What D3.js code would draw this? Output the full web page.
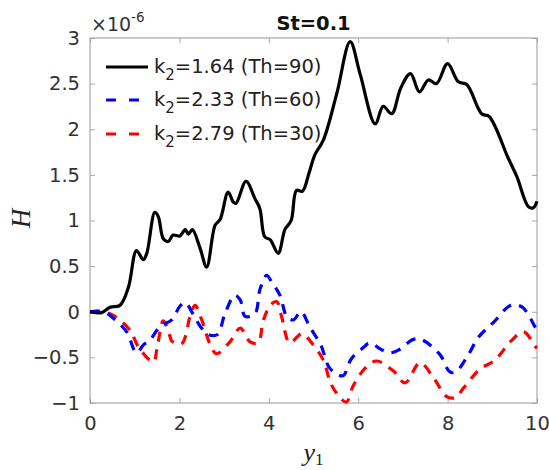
<!DOCTYPE html>
<html lang="en">
<head>
<meta charset="UTF-8">
<title>St=0.1</title>
<script src="https://d3js.org/d3.v7.min.js"></script>
<style>
  body { margin: 0; background: #fff; }
  svg { display: block; }
  .tick text { font-family: "DejaVu Sans", sans-serif; font-size: 19.5px; fill: #333; }
</style>
</head>
<body>
<div id="chart"></div>
<script>
// values in units of 1e-6
const blackX = [0, 0.26, 0.45, 0.67, 0.86, 1.04, 1.19, 1.27, 1.45, 1.53, 1.64, 1.75, 1.86, 2.01, 2.13, 2.2, 2.29, 2.46, 2.61, 2.8, 2.91, 3.09, 3.21, 3.27, 3.49, 3.69, 3.8, 3.91, 4.03, 4.21, 4.36, 4.5, 4.62, 4.75, 4.9, 5.03, 5.22, 5.52, 5.82, 6.04, 6.38, 6.56, 6.75, 6.95, 7.17, 7.37, 7.57, 7.75, 8.0, 8.24, 8.43, 8.76, 8.93, 9.35, 9.55, 9.81, 9.92, 10];
const blackY = [0, -0.01, 0.05, 0.07, 0.27, 0.67, 0.57, 0.64, 1.09, 1.04, 0.8, 0.77, 0.84, 0.83, 0.9, 0.85, 0.9, 0.7, 0.49, 0.95, 1.01, 1.31, 1.2, 1.19, 1.43, 1.24, 1.13, 0.82, 0.79, 0.64, 0.9, 1.0, 1.33, 1.32, 1.52, 1.72, 1.88, 2.39, 2.96, 2.61, 2.06, 2.25, 2.17, 2.45, 2.61, 2.41, 2.54, 2.5, 2.72, 2.52, 2.49, 2.17, 2.14, 1.69, 1.48, 1.15, 1.14, 1.21];

const blueX = [0, 0.3, 0.52, 0.82, 1.04, 1.2, 1.34, 1.57, 1.83, 2.01, 2.13, 2.3, 2.48, 2.65, 2.85, 3.02, 3.24, 3.36, 3.47, 3.69, 3.8, 3.95, 4.06, 4.25, 4.4, 4.55, 4.72, 4.92, 5.16, 5.35, 5.55, 5.67, 5.84, 6.12, 6.26, 6.5, 6.7, 6.9, 7.25, 7.44, 7.83, 8.05, 8.18, 8.43, 8.69, 9.04, 9.41, 9.67, 9.96, 10];
const blueY = [0, 0, -0.07, -0.22, -0.45, -0.36, -0.31, -0.16, -0.09, 0.06, 0.1, -0.02, -0.17, -0.25, -0.25, -0.02, 0.18, 0.13, -0.05, -0.02, 0.24, 0.4, 0.33, 0.18, -0.05, -0.09, 0.0, -0.17, -0.36, -0.61, -0.69, -0.7, -0.52, -0.39, -0.34, -0.41, -0.45, -0.42, -0.3, -0.31, -0.47, -0.66, -0.66, -0.5, -0.28, -0.11, 0.07, 0.05, -0.17, -0.2];

const redX = [0, 0.26, 0.52, 0.89, 1.1, 1.42, 1.5, 1.64, 1.79, 1.83, 2.05, 2.24, 2.35, 2.5, 2.68, 2.83, 3.13, 3.36, 3.58, 3.76, 3.88, 4.05, 4.18, 4.29, 4.47, 4.74, 4.94, 5.22, 5.39, 5.63, 5.74, 5.87, 6.15, 6.41, 6.79, 7.05, 7.38, 7.68, 7.98, 8.18, 8.35, 8.72, 9.06, 9.42, 9.7, 9.96, 10];
const redY = [0, 0, -0.04, -0.2, -0.4, -0.55, -0.4, -0.1, -0.27, -0.32, -0.35, -0.05, 0.07, -0.09, -0.35, -0.46, -0.33, -0.18, -0.33, -0.34, -0.09, 0.08, 0.11, -0.06, -0.34, -0.24, -0.33, -0.53, -0.79, -0.96, -0.99, -0.83, -0.62, -0.54, -0.65, -0.78, -0.56, -0.72, -0.93, -0.94, -0.84, -0.63, -0.53, -0.32, -0.22, -0.38, -0.4];

const xTicks = [0, 2, 4, 6, 8, 10];
const yTicks = [-1, -0.5, 0, 0.5, 1, 1.5, 2, 2.5, 3];
const legendLabels = [["1.64", "90"], ["2.33", "60"], ["2.79", "30"]];

const W = 549, H = 470;
const m = {left: 90, right: 12, top: 38, bottom: 67};
const iw = W - m.left - m.right, ih = H - m.top - m.bottom;

const svg = d3.select("#chart").append("svg").attr("width", W).attr("height", H);
const g = svg.append("g").attr("transform", `translate(${m.left},${m.top})`);

const x = d3.scaleLinear().domain([0, 10]).range([0, iw]);
const y = d3.scaleLinear().domain([-1, 3]).range([ih, 0]);

const axisColor = "#a8a8a8";
function styleAxis(sel) {
  sel.select(".domain").remove();
  sel.selectAll(".tick line").attr("stroke", axisColor);
}

g.append("g").attr("transform", `translate(0,${ih})`)
  .call(d3.axisBottom(x).tickValues(xTicks).tickSizeInner(-5).tickSizeOuter(0).tickPadding(13))
  .call(styleAxis);
g.append("g")
  .call(d3.axisTop(x).tickValues(xTicks).tickSizeInner(-5).tickSizeOuter(0).tickFormat(""))
  .call(styleAxis);
g.append("g")
  .call(d3.axisLeft(y).tickValues(yTicks).tickSizeInner(-5).tickSizeOuter(0).tickPadding(10).tickFormat(d3.format("")))
  .call(styleAxis);
g.append("g").attr("transform", `translate(${iw},0)`)
  .call(d3.axisRight(y).tickValues(yTicks).tickSizeInner(-5).tickSizeOuter(0).tickFormat(""))
  .call(styleAxis);

g.append("rect").attr("width", iw).attr("height", ih)
  .attr("fill", "none").attr("stroke", axisColor).attr("stroke-width", 1.2);

svg.append("clipPath").attr("id", "clip").append("rect")
  .attr("x", -2).attr("y", -4).attr("width", iw + 4).attr("height", ih + 6);

const line = d3.line().x(d => x(d[0])).y(d => y(d[1])).curve(d3.curveCatmullRom.alpha(0.5));

const series = [
  {xs: blackX, ys: blackY, color: "#000", dash: null},
  {xs: blueX, ys: blueY, color: "#0000ff", dash: "10,8"},
  {xs: redX, ys: redY, color: "#ff0000", dash: "10,8"}
];

const plot = g.append("g").attr("clip-path", "url(#clip)");
series.slice().reverse().forEach(s => {
  plot.append("path")
    .datum(d3.zip(s.xs, s.ys))
    .attr("d", line)
    .attr("fill", "none")
    .attr("stroke", s.color)
    .attr("stroke-width", 3.2)
    .attr("stroke-linejoin", "round")
    .attr("stroke-dasharray", s.dash);
});

// title
svg.append("text").attr("x", m.left + iw / 2).attr("y", 30)
  .attr("text-anchor", "middle")
  .style("font-family", "DejaVu Sans, sans-serif").style("font-weight", "bold").style("font-size", "19.5px")
  .style("fill", "#111").text("St=0.1");

// exponent
const ex = svg.append("text").attr("x", m.left + 1).attr("y", 31)
  .style("font-family", "DejaVu Sans, sans-serif").style("font-size", "19px").style("fill", "#333");
ex.append("tspan").text("\u00d710");
ex.append("tspan").attr("dy", -9).style("font-size", "13.5px").text("-6");

// axis labels
svg.append("text")
  .attr("transform", `translate(30,${m.top + ih / 2 - 2}) rotate(-90)`)
  .attr("text-anchor", "middle")
  .style("font-family", "Liberation Serif, serif").style("font-style", "italic").style("font-size", "27px")
  .style("fill", "#222").text("H");

const xl = svg.append("text").attr("x", m.left + iw / 2).attr("y", 461)
  .attr("text-anchor", "middle")
  .style("font-family", "Liberation Serif, serif").style("font-size", "26px").style("fill", "#222");
xl.append("tspan").style("font-style", "italic").text("y");
xl.append("tspan").attr("dy", 4).style("font-size", "17px").text("1");

// legend
const leg = svg.append("g");
const rowY = [67, 100, 134];
series.forEach((s, i) => {
  leg.append("line").attr("x1", 106).attr("x2", 148).attr("y1", rowY[i]).attr("y2", rowY[i])
    .attr("stroke", s.color).attr("stroke-width", 3.2).attr("stroke-dasharray", s.dash ? "10,13" : null);
  const t = leg.append("text").attr("x", 154).attr("y", rowY[i] + 6)
    .style("font-family", "DejaVu Sans, sans-serif").style("font-size", "19.5px").style("fill", "#222");
  t.append("tspan").text("k");
  t.append("tspan").attr("dy", 7).style("font-size", "15px").text("2");
  t.append("tspan").attr("dy", -7).text(`=${legendLabels[i][0]} (Th=${legendLabels[i][1]})`);
});
</script>
</body>
</html>
